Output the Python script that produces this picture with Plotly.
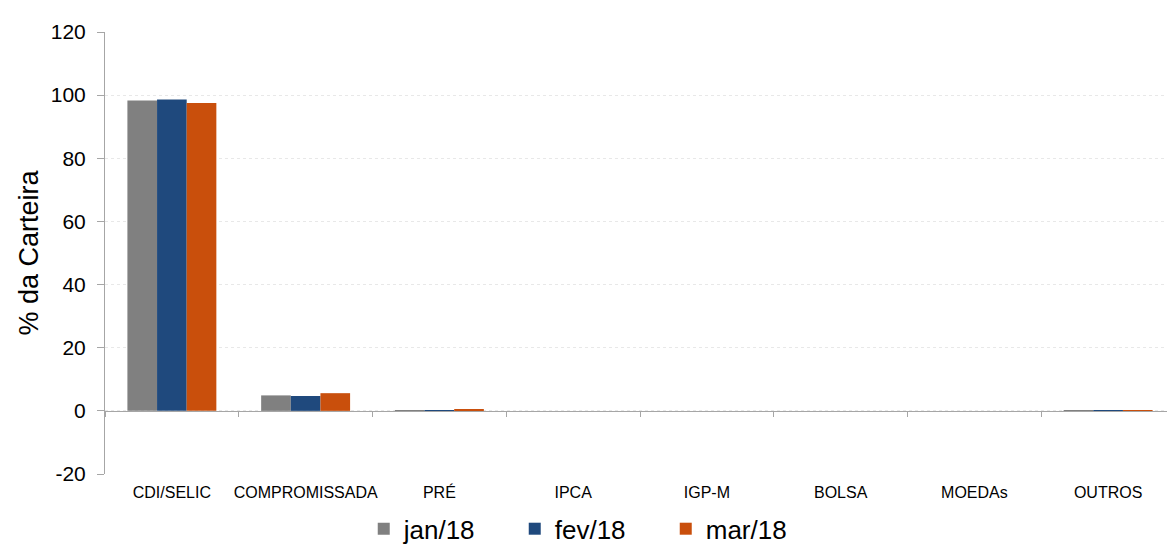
import plotly.graph_objects as go

categories = ["CDI/SELIC", "COMPROMISSADA", "PRÉ", "IPCA", "IGP-M", "BOLSA", "MOEDAs", "OUTROS"]
jan18 = [98.3, 4.9, 0.1, 0.0, 0.0, 0.0, 0.0, -0.3]
fev18 = [98.6, 4.7, 0.1, 0.0, 0.0, 0.0, 0.0, -0.3]
mar18 = [97.5, 5.6, 0.3, 0.0, 0.0, 0.0, 0.0, -0.3]
series_names = ["jan/18", "fev/18", "mar/18"]
colors = ["#808080", "#1F497D", "#C94F0C"]
y_ticks = [-20, 0, 20, 40, 60, 80, 100, 120]
y_tick_text = ["-20", "0", "20", "40", "60", "80", "100", "120"]

font = "Liberation Sans, Arial, sans-serif"
fig = go.Figure()
for name, vals, c in zip(series_names, [jan18, fev18, mar18], colors):
    fig.add_trace(go.Bar(x=categories, y=vals, name=name, marker_color=c,
                         marker_line_width=0))

fig.update_layout(
    width=1167, height=540,
    paper_bgcolor="white", plot_bgcolor="white",
    margin=dict(l=97, r=0, t=24, b=74, autoexpand=False),
    barmode="group", bargap=0.335, bargroupgap=0,
    font=dict(family=font, color="#000000"),
    showlegend=True,
    legend=dict(orientation="h", x=0.4535, xanchor="center", y=-0.124, yanchor="middle",
                font=dict(size=26, family=font), itemwidth=30,
                entrywidth=106, traceorder="normal",
                tracegroupgap=0),
)
fig.update_xaxes(
    anchor="free", position=20/140, automargin=False, tickangle=0,
    showline=True, linecolor="#A6A6A6", linewidth=1,
    ticks="outside", tickson="boundaries", ticklen=5, tickcolor="#A6A6A6",
    showgrid=False, tickfont=dict(size=16, family=font),
    ticklabelstandoff=67,
)
fig.update_yaxes(
    range=[-20, 120], tickvals=y_ticks, ticktext=y_tick_text, domain=[0, 1],
    automargin=False,
    showline=True, linecolor="#A6A6A6", linewidth=1,
    ticks="outside", ticklen=7, tickcolor="#A6A6A6",
    ticklabelstandoff=7,
    showgrid=True, gridcolor="#E8E8E8", griddash="dot", gridwidth=1,
    zeroline=False,
    tickfont=dict(size=21, family=font),
    title=dict(text="% da Carteira", font=dict(size=27, family=font), standoff=4),
)
fig.write_html("out.html")
